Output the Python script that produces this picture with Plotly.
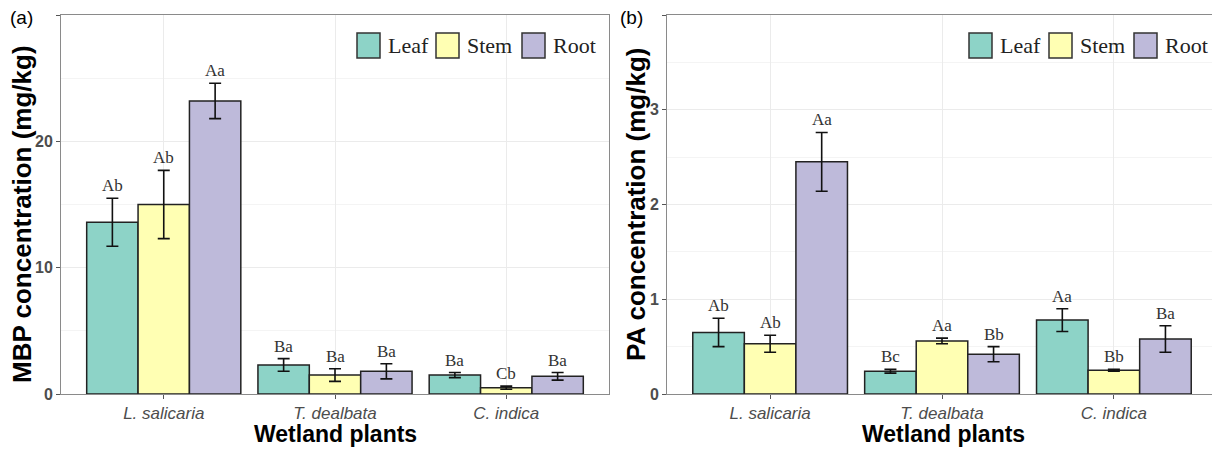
import plotly.graph_objects as go

plants = ["L. salicaria", "T. dealbata", "C. indica"]
tissues = ["Leaf", "Stem", "Root"]
colors = ["#8DD3C7", "#FFFFB3", "#BEBADA"]

mbp_mean = {"Leaf": [13.6, 2.3, 1.5], "Stem": [15.0, 1.5, 0.5], "Root": [23.2, 1.8, 1.4]}
mbp_err = {"Leaf": [1.9, 0.5, 0.2], "Stem": [2.7, 0.5, 0.12], "Root": [1.4, 0.6, 0.3]}
mbp_lab = {"Leaf": ["Ab", "Ba", "Ba"], "Stem": ["Ab", "Ba", "Cb"], "Root": ["Aa", "Ba", "Ba"]}

pa_mean = {"Leaf": [0.65, 0.24, 0.78], "Stem": [0.53, 0.56, 0.25], "Root": [2.45, 0.42, 0.58]}
pa_err = {"Leaf": [0.15, 0.02, 0.12], "Stem": [0.09, 0.03, 0.01], "Root": [0.31, 0.08, 0.14]}
pa_lab = {"Leaf": ["Ab", "Bc", "Aa"], "Stem": ["Ab", "Aa", "Bb"], "Root": ["Aa", "Bb", "Ba"]}

# page has an 8px body margin; figure is sized to fit inside the window
W, H, OFF = 1210, 441, 8


def px(X):
    return (X - OFF) / W


def py(Y):
    return 1 - (Y - OFF) / H


xpos = list(range(len(plants)))
fig = go.Figure()
annotations = []
for k, t in enumerate(tissues):
    for (means, errs, labs, xa, ya) in [(mbp_mean, mbp_err, mbp_lab, "x", "y"),
                                         (pa_mean, pa_err, pa_lab, "x2", "y2")]:
        fig.add_trace(go.Bar(
            x=xpos, y=means[t], name=t, xaxis=xa, yaxis=ya,
            marker=dict(color=colors[k], line=dict(color="#222222", width=1.5)),
            error_y=dict(type="data", array=errs[t], color="#111111", thickness=1.6, width=6),
            offsetgroup=t, showlegend=False,
        ))
        for i in xpos:
            annotations.append(dict(
                x=i + (k - 1) * 0.3, y=means[t][i] + errs[t][i], xref=xa, yref=ya,
                text=labs[t][i], showarrow=False, yanchor="bottom", yshift=1,
                font=dict(family="Liberation Serif", size=17, color="#333333")))

grid = "#EBEBEB"
common_x = dict(tickvals=xpos, ticktext=plants, range=[-0.6, 2.6], automargin=False,
                tickfont=dict(family="Liberation Sans", size=17, color="#4D4D4D", style="italic"),
                showgrid=True, gridcolor=grid, gridwidth=1, zeroline=False,
                ticks="outside", ticklen=4, tickcolor="#555555",
                showline=True, linecolor="#8A8A8A", linewidth=1, mirror=True)
common_y = dict(tickfont=dict(family="Liberation Sans", size=16, color="#4D4D4D", weight="bold"),
                showgrid=True, gridcolor=grid, gridwidth=1, zeroline=False, automargin=False,
                ticks="outside", ticklen=4, tickcolor="#555555",
                showline=True, linecolor="#8A8A8A", linewidth=1, mirror=True)

ydom = [py(394), py(15)]
fig.update_layout(
    width=W, height=H, margin=dict(l=0, r=0, t=0, b=0),
    paper_bgcolor="white", plot_bgcolor="white",
    barmode="group", bargap=0.1, bargroupgap=0,
    xaxis=dict(domain=[px(61), px(609)], anchor="y", **common_x),
    xaxis2=dict(domain=[px(667), px(1217)], anchor="y2", **common_x),
    yaxis=dict(domain=ydom, anchor="x", range=[0, 30], tickvals=[0, 10, 20, 30],
               minor=dict(tickvals=[5, 15, 25], showgrid=True, gridcolor="#F4F4F4"),
               **common_y),
    yaxis2=dict(domain=ydom, anchor="x2", range=[0, 4], tickvals=[0, 1, 2, 3, 4],
                minor=dict(tickvals=[0.5, 1.5, 2.5, 3.5], showgrid=True, gridcolor="#F4F4F4"),
                **common_y),
)

title_font = dict(family="Liberation Sans", size=26, color="#000000", weight="bold")
# axis titles
annotations.append(dict(x=px(22), y=py(214), xref="paper", yref="paper", textangle=-90,
                        text="MBP concentration (mg/kg)", showarrow=False,
                        xanchor="center", yanchor="middle", font=title_font))
annotations.append(dict(x=px(636), y=py(205), xref="paper", yref="paper", textangle=-90,
                        text="PA concentration (mg/kg)", showarrow=False,
                        xanchor="center", yanchor="middle", font=title_font))
xt_font = dict(family="Liberation Sans", size=23, color="#000000", weight="bold")
annotations.append(dict(x=px(335), y=py(434), xref="paper", yref="paper",
                        text="Wetland plants", showarrow=False,
                        xanchor="center", yanchor="middle", font=xt_font))
annotations.append(dict(x=px(943), y=py(434), xref="paper", yref="paper",
                        text="Wetland plants", showarrow=False,
                        xanchor="center", yanchor="middle", font=xt_font))

# panel tags
annotations.append(dict(x=px(8), y=py(17), xref="paper", yref="paper", text="(a)",
                        showarrow=False, xanchor="left", yanchor="middle",
                        font=dict(family="Liberation Sans", size=19, color="#000000")))
annotations.append(dict(x=px(618), y=py(17), xref="paper", yref="paper", text="(b)",
                        showarrow=False, xanchor="left", yanchor="middle",
                        font=dict(family="Liberation Sans", size=19, color="#000000")))

# legends (drawn as keys + labels)
shapes = []
legend_boxes = [[357, 436, 522], [969, 1049, 1134]]
for boxes in legend_boxes:
    for k, t in enumerate(tissues):
        x0 = boxes[k]
        shapes.append(dict(type="rect", xref="paper", yref="paper",
                           x0=px(x0), x1=px(x0 + 23),
                           y0=py(58), y1=py(33),
                           fillcolor=colors[k], line=dict(color="#333333", width=1.5)))
        annotations.append(dict(x=px(x0 + 29), y=py(45), xref="paper", yref="paper",
                                text=t, showarrow=False, xanchor="left", yanchor="middle",
                                font=dict(family="Liberation Serif", size=22, color="#222222")))

fig.update_layout(annotations=annotations, shapes=shapes)
fig.write_html("out.html")
